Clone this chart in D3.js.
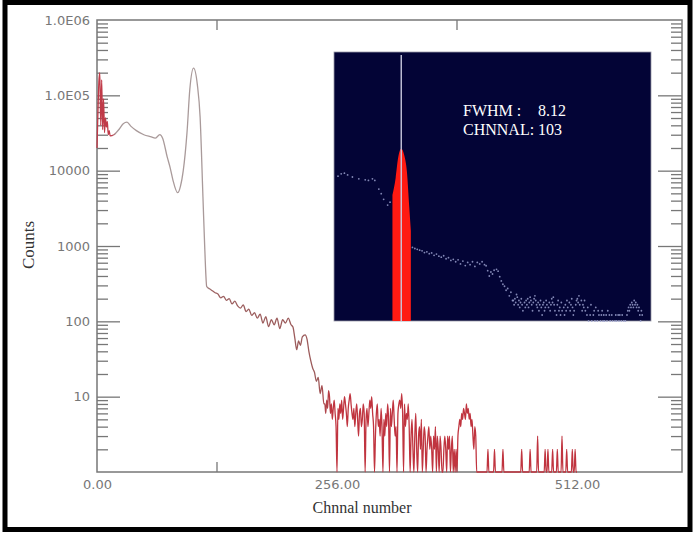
<!DOCTYPE html>
<html>
<head>
<meta charset="utf-8">
<script src="https://cdn.jsdelivr.net/npm/d3@7"></script>
<style>
  body { margin: 0; background: #fff; }
  svg { display: block; }
</style>
</head>
<body>
<svg id="chart" width="695" height="533"></svg>
<script>

// Spectrum: smooth part as channel/count pairs
var smoothChannels = [0, 1, 2, 3, 4, 5, 6, 7, 8, 9, 10, 11, 12, 13, 14, 18, 24, 28, 32, 36, 42, 50, 58, 62, 67, 70, 75, 78, 81, 86, 89, 92, 96, 99, 103, 107, 110, 113, 115, 117,
    120, 123, 126, 129, 132, 135, 138, 141, 144, 147, 150, 153, 156, 159, 162, 165, 168, 171, 174, 177, 180, 183, 186, 189, 192, 195, 198, 201, 204, 207,
    209, 211, 213, 215, 217, 219, 222, 224, 226, 228, 230, 232, 234, 236, 238, 240, 242];
var smoothCounts = [20000, 60000, 150000, 200000, 40000, 160000, 35000, 90000, 32000, 50000, 38000, 45000, 30000, 34000, 29000, 30000, 36000, 42000, 44000, 39000, 34000, 30000, 28000, 27000, 30000, 27000, 15000, 11000, 7500, 5100, 6200, 10000, 32000, 120000, 230000, 140000, 51000, 4500, 890, 290,
    270, 255, 240, 230, 205, 215, 190, 200, 170, 185, 160, 150, 165, 135, 145, 120, 130, 110, 125, 95, 115, 85, 105, 90, 110, 80, 105, 95, 110, 90,
    84, 60, 42, 55, 48, 62, 66, 58, 40, 30, 24, 21, 16, 18, 11, 14, 8];

// Noisy part, one count per channel from noiseStart
var noiseStart = 243;
var noiseCounts = [8, 6, 9, 7, 12, 10, 6, 8, 5, 7, 9, 6, 4,
    0,
    7, 5, 8, 6, 9, 5, 7, 10, 8, 6, 4, 7, 9, 11, 8, 6, 5, 7, 4, 6, 8, 5, 3, 6, 7, 4, 5, 8, 6,
    0,
    5, 7, 4, 6, 9, 7, 10, 6, 4,
    0,
    3, 6, 8, 4, 5, 3, 7, 4,
    0,
    5, 3, 6, 4, 8, 5,
    0,
    7, 4, 6, 9, 5, 3, 4,
    0,
    6, 8, 9, 7, 11, 6,
    0,
    8, 4, 6, 5, 8, 4,
    0,
    3, 5, 2,
    0,
    3, 6, 2,
    0,
    3, 4, 2, 5,
    0,
    2, 4, 3,
    0,
    2, 3, 4, 2, 3, 2,
    0,
    3, 2, 4,
    0,
    3, 2,
    0,
    3, 2, 1,
    0,
    2, 3, 2,
    0,
    3, 2, 3,
    0,
    2, 3,
    0,
    2, 1, 2,
    0,
    3, 4, 5, 4, 6, 5, 7, 6, 5, 8, 6, 7, 5, 6, 4, 5, 3, 2, 4,
    3];

// Tail: isolated counts, zero elsewhere up to the last channel
var tailChannels = [417, 424, 433, 453, 462, 470, 478, 481, 486, 491, 496, 501, 507, 510];
var tailCounts = [2, 2, 2, 2, 2, 3, 2, 2, 2, 2, 3, 2, 2, 2];
var lastChannel = 512;

var yTickValues = [1e6, 1e5, 1e4, 1e3, 100, 10];
var yTickLabels = ["1.0E06", "1.0E05", "10000", "1000", "100", "10"];
var xTickValues = [0, 256, 512];
var peakChannel = 103;
var fwhm = "8.12";

// Build the spectrum table
var spectrum = smoothChannels.map(function(c, i) { return [c, smoothCounts[i]]; });
noiseCounts.forEach(function(v, i) { spectrum.push([noiseStart + i, v]); });
spectrum.push([noiseStart + noiseCounts.length, 0]);
tailChannels.forEach(function(c, i) {
    spectrum.push([c - 1, 0], [c, tailCounts[i]], [c + 1, 0]);
});
spectrum.push([lastChannel, 0]);

var svg = d3.select("#chart");

// Outer black frame
svg.append("rect")
    .attr("x", 5).attr("y", 2.5)
    .attr("width", 685).attr("height", 527)
    .attr("fill", "#fff")
    .attr("stroke", "#000")
    .attr("stroke-width", 5);

// Scales
var x = d3.scaleLinear().domain([0, 624]).range([97, 682]);
var y = d3.scaleLog().domain([1, 1e6]).range([472, 20]);

var axisColor = "#777";

// Plot box
svg.append("rect")
    .attr("x", x(0)).attr("y", y(1e6))
    .attr("width", x(624) - x(0)).attr("height", y(1) - y(1e6))
    .attr("fill", "none")
    .attr("stroke", axisColor)
    .attr("stroke-width", 1.5);

// Log ticks: majors at decades, minors in between
var allTicks = y.ticks();
var majorTicks = allTicks.filter(function(t) { return Math.abs(Math.log10(t) - Math.round(Math.log10(t))) < 1e-6 && t > 1 && t < 1e6; });
var minorTicks = allTicks.filter(function(t) { return majorTicks.indexOf(t) < 0 && t > 1 && t < 1e6; });

function tickAxis(axisFn, values, size, tx) {
    var g = svg.append("g")
        .attr("transform", "translate(" + tx + ",0)")
        .call(axisFn(y).tickValues(values).tickSize(size).tickFormat(""));
    g.select(".domain").remove();
    g.selectAll("line").attr("stroke", axisColor).attr("stroke-width", 1.3);
}
tickAxis(d3.axisRight, minorTicks, 11, x(0));
tickAxis(d3.axisRight, majorTicks, 23, x(0));
tickAxis(d3.axisLeft, minorTicks, 11, x(624));
tickAxis(d3.axisLeft, majorTicks, 24, x(624));

// Minor x ticks on top and bottom
[128, 384].forEach(function(c) {
    svg.append("line").attr("x1", x(c)).attr("x2", x(c)).attr("y1", y(1)).attr("y2", y(1) - 10)
        .attr("stroke", axisColor).attr("stroke-width", 1.3);
    svg.append("line").attr("x1", x(c)).attr("x2", x(c)).attr("y1", y(1e6)).attr("y2", y(1e6) + 10)
        .attr("stroke", axisColor).attr("stroke-width", 1.3);
});

// Y labels
var yLabels = svg.append("g")
    .attr("transform", "translate(" + (x(0) - 4) + ",0)")
    .call(d3.axisLeft(y).tickValues(yTickValues).tickSize(0)
        .tickFormat(function(d, i) { return yTickLabels[i]; }));
yLabels.select(".domain").remove();
yLabels.selectAll("text")
    .attr("fill", axisColor)
    .style("font-family", "DejaVu Sans")
    .style("font-size", "13px");

// X labels
var xLabels = svg.append("g")
    .attr("transform", "translate(0," + (y(1) + 5) + ")")
    .call(d3.axisBottom(x).tickValues(xTickValues).tickSize(0).tickFormat(d3.format(".2f")));
xLabels.select(".domain").remove();
xLabels.selectAll("text")
    .attr("fill", axisColor)
    .style("font-family", "DejaVu Sans")
    .style("font-size", "13px");

// Axis titles
svg.append("text")
    .attr("x", 362).attr("y", 513)
    .attr("text-anchor", "middle")
    .attr("fill", "#333")
    .style("font-family", "Liberation Serif")
    .style("font-size", "16px")
    .text("Chnnal number");

svg.append("text")
    .attr("transform", "translate(34,245) rotate(-90)")
    .attr("text-anchor", "middle")
    .attr("fill", "#333")
    .style("font-family", "Liberation Serif")
    .style("font-size", "17px")
    .text("Counts");

// Spectrum line, colour shifts along the channel axis
var grad = svg.append("defs").append("linearGradient")
    .attr("id", "lineColor")
    .attr("gradientUnits", "userSpaceOnUse")
    .attr("x1", x(0)).attr("x2", x(lastChannel))
    .attr("y1", 0).attr("y2", 0);
[[0, "#c03a48"], [0.03, "#c03a48"], [0.04, "#a99a9a"], [0.225, "#a99a9a"], [0.24, "#9c6060"], [0.46, "#9c5a5a"], [0.49, "#c0343f"], [1, "#c0343f"]]
    .forEach(function(s) { grad.append("stop").attr("offset", s[0]).attr("stop-color", s[1]); });

var line = d3.line()
    .x(function(d) { return x(d[0]); })
    .y(function(d) { return y(Math.max(d[1], 1)); })
    .curve(d3.curveMonotoneX);

svg.append("path")
    .datum(spectrum)
    .attr("d", line)
    .attr("fill", "none")
    .attr("stroke", "url(#lineColor)")
    .attr("stroke-width", 1.3);

// Inset: zoomed display of the same spectrum
var ix = d3.scaleLinear().domain([19, 415]).range([334, 651]);
var iy = d3.scaleLog().domain([2, 1e6]).range([321, 127]);

svg.append("rect")
    .attr("x", ix(19)).attr("y", 52)
    .attr("width", ix(415) - ix(19)).attr("height", iy(2) - 52)
    .attr("fill", "#030436")
    .attr("stroke", "#9a9aa8")
    .attr("stroke-width", 0.8);

var roi = spectrum.filter(function(d) { return d[0] >= 92 && d[0] <= 115; });
svg.append("path")
    .datum(roi)
    .attr("d", d3.area()
        .x(function(d) { return ix(d[0]); })
        .y0(iy(2))
        .y1(function(d) { return iy(d[1]); })
        .curve(d3.curveMonotoneX))
    .attr("fill", "#ff1a12");

svg.append("g").selectAll("circle")
    .data(spectrum.filter(function(d) { return d[0] >= 19 && d[0] <= 415 && d[1] >= 2 && (d[0] < 92 || d[0] > 115); }))
    .enter()
    .append("circle")
    .attr("cx", function(d) { return ix(d[0]); })
    .attr("cy", function(d) { return iy(d[1]); })
    .attr("r", 0.9)
    .attr("fill", "#9aa0cc")
    .attr("opacity", 0.85);

svg.append("line")
    .attr("x1", ix(peakChannel)).attr("x2", ix(peakChannel))
    .attr("y1", 55).attr("y2", iy(2))
    .attr("stroke", "#c8c8dc")
    .attr("stroke-width", 1.4);

var insetText = svg.append("g")
    .attr("fill", "#fff")
    .style("font-family", "Liberation Serif")
    .style("font-size", "16px");
insetText.append("text").attr("x", 463).attr("y", 116).text("FWHM :");
insetText.append("text").attr("x", 538).attr("y", 116).text(fwhm);
insetText.append("text").attr("x", 463).attr("y", 135).text("CHNNAL: " + peakChannel);

</script>
</body>
</html>
